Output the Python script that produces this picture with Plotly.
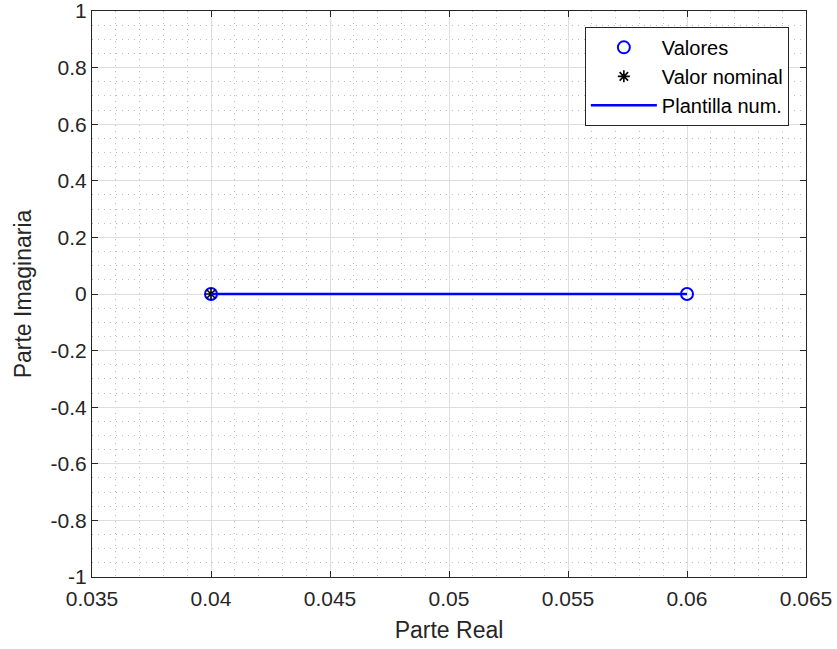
import plotly.graph_objects as go

# Data
valores_x = [0.04, 0.06]
valores_y = [0.0, 0.0]
nominal_x = [0.04]
nominal_y = [0.0]
plantilla_x = [0.04, 0.06]
plantilla_y = [0.0, 0.0]

x_ticks = [0.035, 0.04, 0.045, 0.05, 0.055, 0.06, 0.065]
x_labels = ["0.035", "0.04", "0.045", "0.05", "0.055", "0.06", "0.065"]
y_ticks = [1, 0.8, 0.6, 0.4, 0.2, 0, -0.2, -0.4, -0.6, -0.8, -1]
y_labels = ["1", "0.8", "0.6", "0.4", "0.2", "0", "-0.2", "-0.4", "-0.6", "-0.8", "-1"]

FONT = "Liberation Sans, Arial, Helvetica, sans-serif"
TXT = "#262626"
FS = 21
FT = 23

fig = go.Figure()
fig.add_trace(go.Scatter(
    x=valores_x, y=valores_y, mode="markers", name="Valores",
    marker=dict(symbol="circle-open", size=12, color="#0000ff", line=dict(width=2, color="#0000ff")),
))
fig.add_trace(go.Scatter(
    x=nominal_x, y=nominal_y, mode="markers", name="Valor nominal",
    marker=dict(symbol="asterisk-open", size=10, color="#000000", line=dict(width=1.6, color="#000000")),
))
fig.add_trace(go.Scatter(
    x=plantilla_x, y=plantilla_y, mode="lines", name="Plantilla num.",
    line=dict(color="#0000ff", width=2.5),
))

axis_common = dict(
    showline=True, linecolor=TXT, linewidth=1, mirror="ticks",
    ticks="inside", ticklen=6, tickwidth=1, tickcolor=TXT,
    showgrid=True, gridcolor="#dedede", gridwidth=1,
    zeroline=False, automargin=False, ticklabeloverflow="allow",
    tickfont=dict(family=FONT, size=FS, color=TXT),
)

fig.update_xaxes(
    range=[0.035, 0.065], tickmode="array", tickvals=x_ticks, ticktext=x_labels,
    title=dict(text="Parte Real", font=dict(family=FONT, size=FT, color=TXT), standoff=12),
    minor=dict(dtick=0.001, showgrid=True, gridcolor="#bcbcbc", griddash="1px,5px", gridwidth=1, ticks=""),
    ticklabelstandoff=3,
    **axis_common,
)
fig.update_yaxes(
    range=[-1, 1], tickmode="array", tickvals=y_ticks, ticktext=y_labels,
    title=dict(text="Parte Imaginaria", font=dict(family=FONT, size=FT, color=TXT), standoff=12),
    minor=dict(dtick=0.05, showgrid=True, gridcolor="#bcbcbc", griddash="1px,5px", gridwidth=1, ticks=""),
    **axis_common,
)

fig.update_layout(
    width=837, height=649,
    margin=dict(l=92, r=31, t=11, b=72),
    paper_bgcolor="white", plot_bgcolor="white",
    font=dict(family=FONT, size=FS, color=TXT),
    showlegend=True,
    legend=dict(
        x=0.976, y=0.972, xanchor="right", yanchor="top",
        bgcolor="white", bordercolor=TXT, borderwidth=1,
        font=dict(family=FONT, size=20, color="#000000"),
        itemwidth=66, tracegroupgap=0,
    ),
)

fig.write_html("out.html")
